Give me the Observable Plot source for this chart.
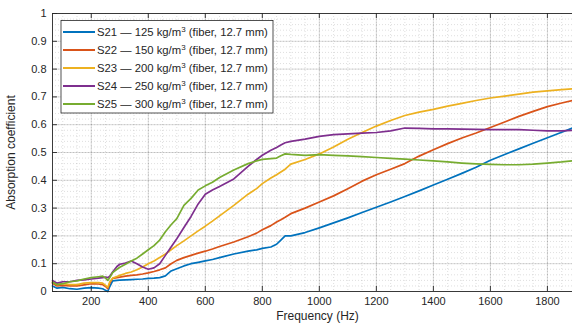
<!DOCTYPE html>
<html>
<head>
<meta charset="utf-8">
<script src="https://cdn.jsdelivr.net/npm/d3@7"></script>
<script src="https://cdn.jsdelivr.net/npm/@observablehq/plot@0.6"></script>
<style>
  html, body { margin: 0; padding: 0; background: #fff; }
</style>
</head>
<body>
<div id="chart"></div>
<script>
// ---- data ----
const freq = [64,80,100,125,150,175,200,225,240,250, 258,265,275,290,300,320,340,360,380,400,
  420,440,460,480,500,525,550,575,600,625, 650,700,750,780,800,830,850,865,880,900,
  950,1000,1050,1100,1150,1200,1250,1300,1350,1400, 1450,1500,1550,1600,1650,1700,1750,1800,1850,1888];

const s21 = [0.02,0.012,0.015,0.01,0.008,0.012,0.014,0.012,0.01,0.004, 0.0,0.018,0.038,0.04,0.041,0.042,0.043,0.044,0.045,0.047,
  0.048,0.05,0.056,0.074,0.082,0.092,0.1,0.105,0.11,0.115, 0.122,0.135,0.145,0.15,0.155,0.16,0.17,0.185,0.2,0.2,
  0.212,0.229,0.247,0.265,0.284,0.303,0.322,0.342,0.362,0.383, 0.404,0.425,0.447,0.472,0.493,0.513,0.533,0.553,0.573,0.588];

const s22 = [0.03,0.02,0.022,0.02,0.02,0.024,0.028,0.027,0.025,0.018, 0.01,0.03,0.047,0.05,0.052,0.055,0.058,0.06,0.063,0.067,
  0.072,0.078,0.085,0.1,0.112,0.122,0.13,0.138,0.145,0.153, 0.162,0.178,0.197,0.21,0.222,0.237,0.25,0.258,0.267,0.28,
  0.3,0.322,0.344,0.37,0.397,0.42,0.44,0.46,0.487,0.51, 0.532,0.552,0.57,0.59,0.61,0.63,0.648,0.665,0.678,0.687];

const s23 = [0.035,0.025,0.028,0.025,0.025,0.03,0.032,0.032,0.03,0.022, 0.015,0.035,0.048,0.054,0.058,0.065,0.07,0.078,0.088,0.1,
  0.11,0.122,0.135,0.15,0.165,0.182,0.2,0.218,0.235,0.253, 0.272,0.31,0.35,0.37,0.388,0.408,0.42,0.43,0.44,0.458,
  0.475,0.495,0.52,0.548,0.572,0.595,0.615,0.633,0.645,0.655, 0.667,0.677,0.687,0.696,0.703,0.71,0.717,0.722,0.726,0.729];

const s24 = [0.04,0.03,0.035,0.035,0.04,0.042,0.045,0.048,0.05,0.052, 0.05,0.055,0.07,0.09,0.098,0.102,0.11,0.1,0.088,0.08,
  0.085,0.1,0.13,0.16,0.19,0.23,0.27,0.315,0.35,0.365, 0.378,0.405,0.45,0.475,0.49,0.508,0.518,0.527,0.535,0.54,
  0.548,0.558,0.564,0.567,0.57,0.572,0.578,0.588,0.587,0.585, 0.585,0.584,0.583,0.582,0.582,0.582,0.58,0.578,0.578,0.58];

const s25 = [0.033,0.025,0.028,0.035,0.038,0.045,0.05,0.053,0.055,0.048, 0.04,0.05,0.068,0.08,0.087,0.098,0.11,0.12,0.135,0.15,
  0.165,0.185,0.215,0.24,0.262,0.31,0.335,0.365,0.38,0.393, 0.41,0.437,0.46,0.47,0.475,0.478,0.48,0.488,0.495,0.493,
  0.49,0.492,0.49,0.488,0.485,0.482,0.479,0.476,0.473,0.47, 0.466,0.462,0.459,0.457,0.456,0.456,0.458,0.462,0.466,0.47];

const seriesNames = ["S21", "S22", "S23", "S24", "S25"];
const densities = [125, 150, 200, 250, 300];
const colors = ["#0072BD", "#D95319", "#EDB120", "#7E2F8E", "#77AC30"];
const seriesValues = [s21, s22, s23, s24, s25];

const xMajor = [200, 400, 600, 800, 1000, 1200, 1400, 1600, 1800];
const yMajor = [0, 0.1, 0.2, 0.3, 0.4, 0.5, 0.6, 0.7, 0.8, 0.9, 1];
const xMinor = d3.range(100, 1900, 50);
const yMinor = d3.range(0.02, 1, 0.02);

const xTitle = "Frequency (Hz)";
const yTitle = "Absorption coefficient";

// ---- build ----
const tables = seriesValues.map((vals, i) => freq.map((f, j) => ({f, v: vals[j], s: seriesNames[i]})));

const axisColor = "#262626";
const chart = Plot.plot({
  width: 572,
  height: 326,
  marginLeft: 52,
  marginRight: 0,
  marginTop: 13,
  marginBottom: 35,
  style: {fontFamily: "'Liberation Sans', Arial, sans-serif", fontSize: "11px", color: axisColor, background: "#fff"},
  x: {domain: [64, 1888]},
  y: {domain: [0, 1]},
  marks: [
    Plot.ruleX(xMinor, {stroke: "#000", strokeOpacity: 0.22, strokeDasharray: "1,2", strokeWidth: 0.6}),
    Plot.ruleY(yMinor, {stroke: "#000", strokeOpacity: 0.22, strokeDasharray: "1,2", strokeWidth: 0.6}),
    Plot.ruleX(xMajor, {stroke: "#000", strokeOpacity: 0.14}),
    Plot.ruleY(yMajor, {stroke: "#000", strokeOpacity: 0.14}),
    ...tables.map((t, i) => Plot.line(t, {x: "f", y: "v", stroke: colors[i], strokeWidth: 1.7})),
    // spines
    Plot.ruleY([0, 1], {stroke: axisColor, strokeWidth: 0.9}),
    Plot.ruleX([64], {stroke: axisColor, strokeWidth: 0.9}),
    // inward ticks
    Plot.ruleX(xMajor, {y1: 0, y2: 0.018, stroke: axisColor, strokeWidth: 0.9}),
    Plot.ruleX(xMajor, {y1: 0.982, y2: 1, stroke: axisColor, strokeWidth: 0.9}),
    Plot.ruleY(yMajor, {x1: 64, x2: 81.5, stroke: axisColor, strokeWidth: 0.9}),
    Plot.axisX({ticks: xMajor, tickSize: 0, tickPadding: 6, label: null, tickFormat: d => String(d), fontSize: 11}),
    Plot.axisY({ticks: yMajor, tickSize: 0, tickPadding: 6, label: null, tickFormat: d => String(+d.toFixed(1)), fontSize: 11}),
    Plot.text([xTitle], {frameAnchor: "bottom", textAnchor: "middle", dy: 28, dx: 5, fontSize: 12, fill: axisColor}),
    Plot.text([yTitle], {frameAnchor: "left", textAnchor: "middle", rotate: -90, dx: -41, fontSize: 12, fill: axisColor})
  ]
});

// ---- legend ----
const svg = d3.select(chart);
const lg = svg.append("g").attr("font-family", "'Liberation Sans', Arial, sans-serif").attr("font-size", 11.3)
  .attr("fill", axisColor).attr("text-anchor", "start");
lg.append("rect").attr("x", 61).attr("y", 20.5).attr("width", 212).attr("height", 92.5)
  .attr("fill", "#fff").attr("stroke", axisColor).attr("stroke-width", 0.8);
seriesNames.forEach((name, i) => {
  const yy = 32 + i * 18;
  lg.append("line").attr("x1", 63).attr("x2", 95).attr("y1", yy).attr("y2", yy)
    .attr("stroke", colors[i]).attr("stroke-width", 2);
  const t = lg.append("text").attr("x", 97).attr("y", yy).attr("dy", "0.35em").attr("text-anchor", "start");
  t.append("tspan").text(`${name} \u2014 ${densities[i]} kg/m`);
  t.append("tspan").attr("dy", -4).attr("font-size", 8).text("3");
  t.append("tspan").attr("dy", 4).text(" (fiber, 12.7 mm)");
});

document.getElementById("chart").appendChild(chart);
</script>
</body>
</html>
